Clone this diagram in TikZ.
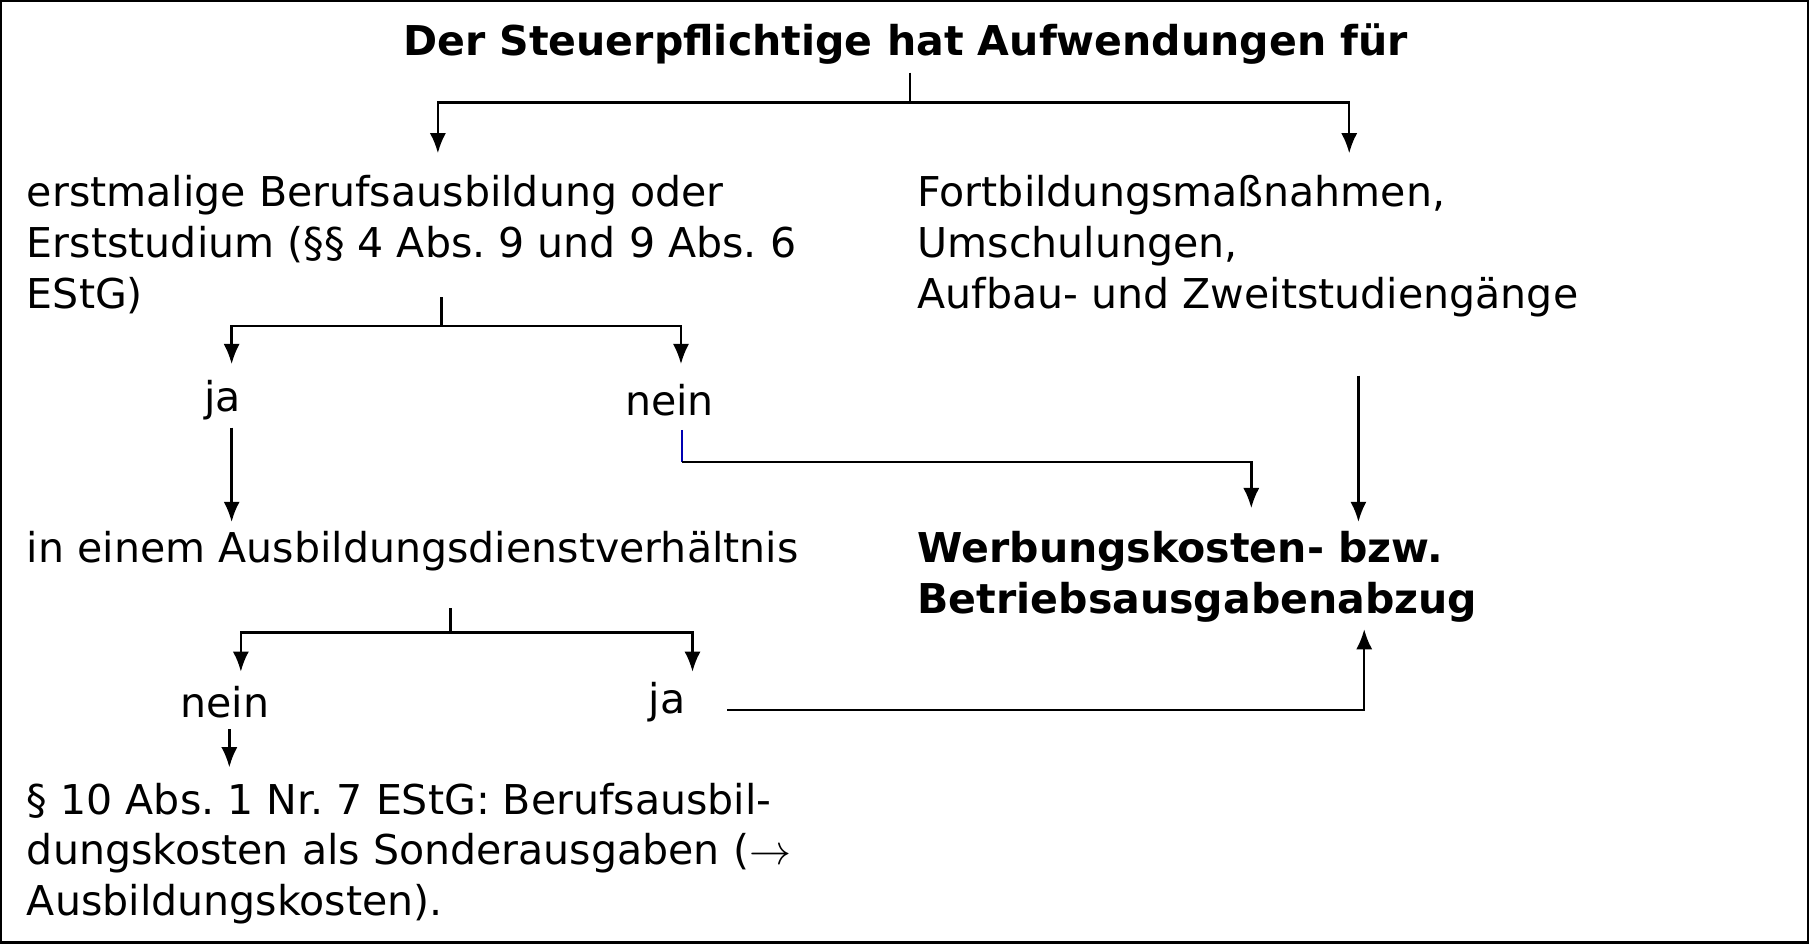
\documentclass[tikz,border=0pt]{standalone}
\usepackage{fontspec}
\setmainfont{DejaVu Sans}
\usetikzlibrary{arrows.meta}
\frenchspacing
\begin{document}
\begin{tikzpicture}
	[x = 0.02cm, y = -0.02cm,
	txt/.style={anchor=north west, inner sep=0, align=left, font=\fontsize{20.3}{25}\selectfont},
	lbl/.style={inner sep=0, font=\fontsize{20.3}{25}\selectfont},
	conn/.style={line width=1.2pt, black},
	arr/.style={conn, -{Latex[length=10pt, width=8pt]}}]

	% Frame
	\draw[line width=1.2pt] (0, 0) rectangle (1568, 817);

	% Texts
	\node[lbl, font=\fontsize{20.3}{25}\selectfont\bfseries] (title) at (785, 37) {Der Steuerpflichtige hat Aufwendungen für};
	\node[txt] (first) at (22, 151) {erstmalige Berufsausbildung oder\\Erststudium (§§ 4 Abs. 9 und 9 Abs. 6\\EStG)};
	\node[txt] (further) at (795, 151) {Fortbildungsmaßnahmen,\\Umschulungen,\\Aufbau- und Zweitstudiengänge};
	\node[lbl] (ja1) at (192, 346) {ja};
	\node[lbl] (nein1) at (580, 346) {nein};
	\node[txt] (service) at (22, 460) {in einem Ausbildungsdienstverhältnis};
	\node[txt, font=\fontsize{20.3}{25}\selectfont\bfseries] (deduct) at (795, 460) {Werbungskosten- bzw.\\Betriebsausgabenabzug};
	\node[lbl] (nein2) at (194, 608) {nein};
	\node[lbl] (ja2) at (578, 608) {ja};
	\node[txt] (special) at (22, 678) {§ 10 Abs. 1 Nr. 7 EStG: Berufsausbil-\\dungskosten als Sonderausgaben ($\rightarrow$\\Ausbildungskosten).};

	% Branch points
	\coordinate (t1) at (789, 62);
	\coordinate (t2) at (789, 88);
	\coordinate (b1) at (382, 257);
	\coordinate (b2) at (382, 282);
	\coordinate (s1) at (390, 527);
	\coordinate (s2) at (390, 548);

	% Connectors
	\draw[conn] (t1) -- (t2);
	\draw[arr] (t2) -| (379, 132);
	\draw[arr] (t2) -| (1170, 132);
	\draw[conn] (b1) -- (b2);
	\draw[arr] (b2) -| (200, 315);
	\draw[arr] (b2) -| (590, 315);
	\draw[arr] (200, 370) -- (200, 452);
	\draw[conn, blue!70!black] (591, 372) -- (591, 400);
	\draw[arr] (591, 400) -| (1085, 440);
	\draw[arr] (1178, 325) -- (1178, 452);
	\draw[conn] (s1) -- (s2);
	\draw[arr] (s2) -| (208, 582);
	\draw[arr] (s2) -| (600, 582);
	\draw[arr] (198, 632) -- (198, 665);
	\draw[arr] (630, 615) -| (1183, 545);
\end{tikzpicture}
\end{document}
